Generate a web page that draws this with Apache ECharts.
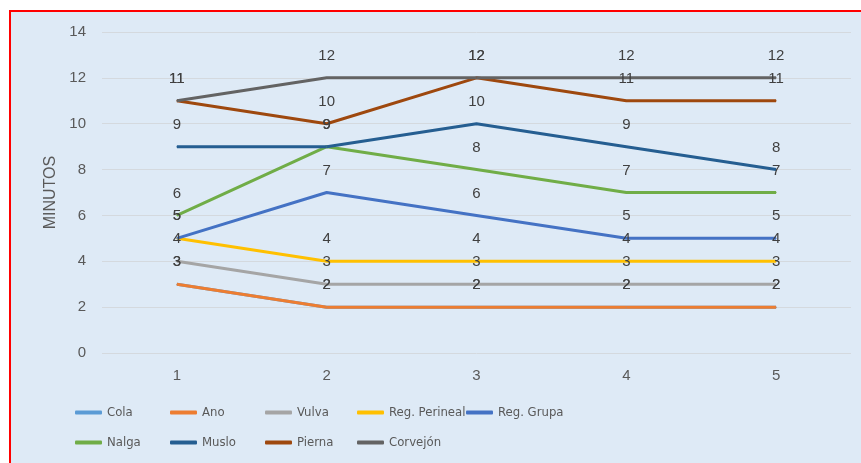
<!DOCTYPE html>
<html>
<head>
<meta charset="utf-8">
<script src="https://cdn.jsdelivr.net/npm/echarts@6/dist/echarts.min.js"></script>
<style>
html,body{margin:0;padding:0;background:#fff;width:861px;height:463px;overflow:hidden;}
#bg{position:absolute;left:9px;top:10px;width:860px;height:460px;border-left:2px solid #ff0000;border-top:2px solid #ff0000;background:#DEEAF6;}
#chart{position:absolute;left:0;top:0;width:861px;height:463px;}
</style>
</head>
<body>
<div id="bg"></div>
<div id="chart"></div>
<script>
const categories = ['1', '2', '3', '4', '5'];
const seriesNames = ['Cola', 'Ano', 'Vulva', 'Reg. Perineal', 'Reg. Grupa', 'Nalga', 'Muslo', 'Pierna', 'Corvejón'];
const cola = [3, 2, 2, 2, 2];
const ano = [3, 2, 2, 2, 2];
const vulva = [4, 3, 3, 3, 3];
const regPerineal = [5, 4, 4, 4, 4];
const regGrupa = [5, 7, 6, 5, 5];
const nalga = [6, 9, 8, 7, 7];
const muslo = [9, 9, 10, 9, 8];
const pierna = [11, 10, 12, 11, 11];
const corvejon = [11, 12, 12, 12, 12];
const seriesValues = [cola, ano, vulva, regPerineal, regGrupa, nalga, muslo, pierna, corvejon];
const colors = ['#5B9BD5', '#ED7D31', '#A5A5A5', '#FFC000', '#4472C4', '#70AD47', '#255E91', '#9E480E', '#636363'];

const chart = echarts.init(document.getElementById('chart'));
const legendLeft = [70, 165, 260, 352, 461];
const legends = seriesNames.map((n, i) => ({
  left: legendLeft[i % 5],
  top: i < 5 ? 401 : 431,
  data: [n],
  itemGap: 0,
  itemWidth: 27,
  itemHeight: 4,
  icon: 'roundRect',
  textStyle: { color: '#595959', fontSize: 13, fontFamily: 'Liberation Sans Narrow, DejaVu Sans Condensed, Liberation Sans, sans-serif' }
}));
chart.setOption({
  backgroundColor: 'transparent',
  color: colors,
  animation: false,
  grid: { left: 102, right: 10, top: 32, bottom: 110 },
  legend: legends,
  xAxis: {
    type: 'category',
    data: categories,
    boundaryGap: true,
    axisLine: { show: false },
    axisTick: { show: false },
    axisLabel: { color: '#595959', fontSize: 15, margin: 15, fontFamily: 'Liberation Sans, sans-serif' }
  },
  yAxis: {
    type: 'value',
    min: 0,
    max: 14,
    interval: 2,
    name: 'MINUTOS',
    nameLocation: 'middle',
    nameGap: 43,
    nameTextStyle: { color: '#595959', fontSize: 16, fontFamily: 'Liberation Sans, sans-serif' },
    axisLine: { show: false },
    axisTick: { show: false },
    axisLabel: { color: '#595959', fontSize: 15, margin: 16, fontFamily: 'Liberation Sans, sans-serif' },
    splitLine: { lineStyle: { color: '#D4D9DE', width: 1 } }
  },
  series: seriesNames.map((n, i) => ({
    name: n,
    type: 'line',
    data: seriesValues[i],
    symbol: 'circle',
    symbolSize: 1,
    lineStyle: { width: 3, color: colors[i] },
    itemStyle: { color: colors[i] },
    label: { show: true, position: 'top', distance: 14, color: '#404040', fontSize: 15, fontFamily: 'Liberation Sans, sans-serif' }
  }))
});
</script>
</body>
</html>
